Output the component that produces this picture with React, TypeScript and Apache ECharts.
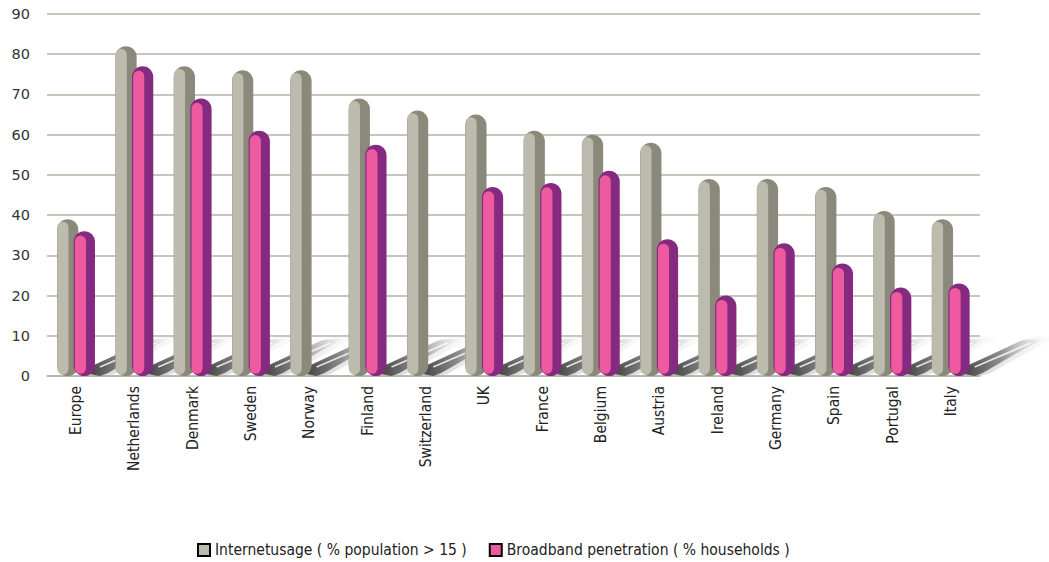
import React, { useEffect, useRef } from "react";
import * as echarts from "echarts";

const categories = [
  "Europe", "Netherlands", "Denmark", "Sweden", "Norway", "Finland", "Switzerland", "UK",
  "France", "Belgium", "Austria", "Ireland", "Germany", "Spain", "Portugal", "Italy",
];
const internetUsage = [39, 82, 77, 76, 76, 69, 66, 65, 61, 60, 58, 49, 49, 47, 41, 39];
const broadband: (number | null)[] = [36, 77, 69, 61, null, 57.5, null, 47, 48, 51, 34, 20, 33, 28, 22, 23];
const yTicks = { min: 0, max: 90, interval: 10 };
const seriesNames = ["Internetusage ( % population > 15 )", "Broadband penetration ( % households )"];

const GRAY_LIGHT = "#bdbbae";
const GRAY_DARK = "#8b897b";
const PINK_LIGHT = "#ee5aa0";
const PINK_DARK = "#852a80";
const FONT = "'Liberation Sans Narrow', 'DejaVu Sans Condensed', 'Liberation Sans', sans-serif";

function capsule(api: any, idx: number, v: number, offset: number, light: string, dark: string, inset: number) {
  const top = api.coord([idx, v]);
  const base = api.coord([idx, 0]);
  const band = api.size([1, 0])[0];
  const w = band * 0.365;
  const cx = base[0] + band * offset;
  const x = cx - w / 2;
  const h = base[1] - top[1];
  const iw = w * 0.52;
  return {
    type: "group",
    children: [
      { type: "rect", shape: { x, y: top[1], width: w, height: h, r: w / 2 }, style: { fill: dark } },
      {
        type: "rect",
        shape: { x: x + inset, y: top[1] + 2 + inset * 2, width: iw, height: Math.max(h - 3 - inset * 3, 0), r: iw / 2 },
        style: { fill: light },
      },
    ],
  };
}

export default function App() {
  const ref = useRef<HTMLDivElement>(null);
  useEffect(() => {
    if (!ref.current) return;
    const chart = echarts.init(ref.current, null, { renderer: "svg" });
    const grayData = internetUsage.map((v, i) => [i, v]);
    const pinkData = broadband.map((v, i) => (v == null ? null : [i, v])).filter((d) => d) as number[][];
    const shadowData = categories.map((_, i) => [i, broadband[i] == null ? 0 : 1]);
    chart.setOption({
      animation: false,
      grid: { left: 47, right: 69, top: 14, bottom: 186 },
      legend: {
        data: seriesNames,
        top: 537,
        left: 192,
        icon: "rect",
        itemWidth: 12,
        itemHeight: 12,
        itemGap: 22,
        textStyle: { fontFamily: FONT, fontSize: 15.5, color: "#222" },
      },
      xAxis: {
        type: "category",
        data: categories,
        axisLine: { show: true, lineStyle: { color: "#b5b3a6", width: 1.5 } },
        axisTick: { show: false },
        axisLabel: { rotate: 90, interval: 0, fontFamily: FONT, fontSize: 15.5, color: "#222", margin: 10 },
      },
      yAxis: {
        type: "value",
        min: yTicks.min,
        max: yTicks.max,
        interval: yTicks.interval,
        axisLine: { show: false },
        axisTick: { show: false },
        splitLine: { lineStyle: { color: "#b5b3a6", width: 1.5 } },
        axisLabel: { fontFamily: "'DejaVu Sans', sans-serif", fontSize: 14.5, color: "#333", margin: 17 },
      },
      series: [
        {
          type: "custom",
          name: "shadow",
          z: 1,
          silent: true,
          clip: false,
          data: shadowData,
          encode: { x: 0, y: 1 },
          renderItem: (params: any, api: any) => {
            const idx = api.value(0);
            const hasPink = api.value(1) === 1;
            const base = api.coord([idx, 0]);
            const band = api.size([1, 0])[0];
            const w = band * 0.365;
            const xr = base[0] + band * (hasPink ? 0.14 : -0.145) + w / 2 - 3;
            const y0 = base[1];
            return {
              type: "group",
              children: [
                {
                  type: "polygon",
                  shape: {
                    points: [
                      [xr - 6, y0 - 4], [xr + 50, y0 - 34], [xr + 72, y0 - 40], [xr + 88, y0 - 38],
                      [xr + 62, y0 - 24], [xr + 22, y0 - 2], [xr + 12, y0],
                    ],
                  },
                  style: {
                    fill: new echarts.graphic.LinearGradient(0, 0, 1, 0, [
                      { offset: 0, color: "rgba(150,150,150,0.5)" },
                      { offset: 1, color: "rgba(230,230,230,0.15)" },
                    ]),
                  },
                },
                {
                  type: "polygon",
                  shape: {
                    points: [
                      [xr - 3, y0 - 2], [xr + 2, y0 - 11], [xr + 56, y0 - 36], [xr + 76, y0 - 37],
                      [xr + 54, y0 - 25], [xr + 16, y0 - 3], [xr + 8, y0],
                    ],
                  },
                  style: {
                    fill: new echarts.graphic.LinearGradient(0, 0, 1, 0, [
                      { offset: 0, color: "rgba(50,50,50,0.9)" },
                      { offset: 0.45, color: "rgba(100,100,100,0.7)" },
                      { offset: 1, color: "rgba(210,210,210,0.15)" },
                    ]),
                  },
                },
                {
                  type: "line",
                  shape: { x1: xr + 8, y1: y0 - 9, x2: xr + 64, y2: y0 - 33 },
                  style: { stroke: "rgba(255,255,255,0.8)", lineWidth: 1.8 },
                },
              ],
            };
          },
        },
        {
          type: "custom",
          name: seriesNames[0],
          z: 2,
          itemStyle: { color: GRAY_LIGHT, borderColor: "#000", borderWidth: 1.2 },
          data: grayData,
          encode: { x: 0, y: 1 },
          renderItem: (params: any, api: any) =>
            capsule(api, api.value(0), api.value(1), -0.145, GRAY_LIGHT, GRAY_DARK, 0.3),
        },
        {
          type: "custom",
          name: seriesNames[1],
          z: 3,
          itemStyle: { color: PINK_LIGHT, borderColor: "#000", borderWidth: 1.2 },
          data: pinkData,
          encode: { x: 0, y: 1 },
          renderItem: (params: any, api: any) =>
            capsule(api, api.value(0), api.value(1), 0.14, PINK_LIGHT, PINK_DARK, 1.2),
        },
      ],
    });
    return () => chart.dispose();
  }, []);
  return <div ref={ref} style={{ position: "fixed", left: 0, top: 0, width: 1049, height: 562, background: "#fff" }} />;
}
